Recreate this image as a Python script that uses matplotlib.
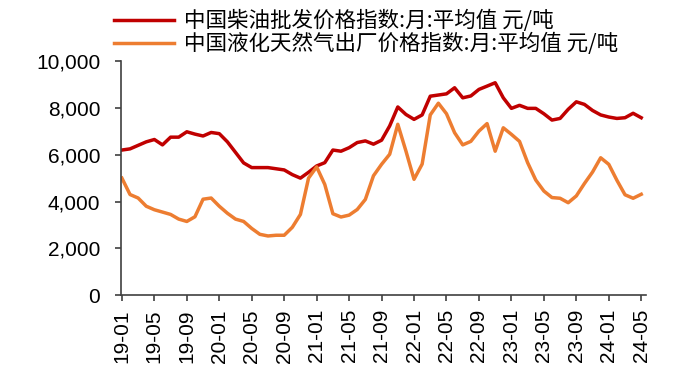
import matplotlib.pyplot as plt
import numpy as np

plt.rcParams['font.family'] = ['Liberation Sans', 'Noto Sans CJK SC', 'DejaVu Sans']

# months 2019-01 .. 2024-05
months = ['%02d-%02d' % (19 + i // 12, i % 12 + 1) for i in range(65)]

diesel = [6200, 6250, 6400, 6550, 6650, 6420, 6750, 6750, 6980, 6880,
          6800, 6950, 6900, 6550, 6100, 5650, 5450, 5450, 5450, 5400,
          5350, 5150, 5000, 5250, 5520, 5660, 6200, 6150, 6300, 6520,
          6590, 6450, 6620, 7230, 8040, 7720, 7510, 7700, 8500, 8550,
          8600, 8860, 8430, 8510, 8790, 8930, 9075, 8430, 7980, 8110,
          7980, 7980, 7750, 7480, 7550, 7940, 8260, 8150, 7890, 7700,
          7610, 7550, 7580, 7770, 7580]

lng = [5000, 4300, 4150, 3800, 3650, 3550, 3450, 3250, 3150, 3350,
       4100, 4150, 3800, 3500, 3250, 3150, 2850, 2600, 2530, 2560,
       2560, 2900, 3450, 5000, 5480, 4730, 3480, 3340, 3420, 3660,
       4090, 5100, 5590, 6020, 7300, 6160, 4950, 5600, 7700, 8200,
       7750, 6940, 6420, 6570, 7010, 7330, 6150, 7150, 6870, 6570,
       5660, 4920, 4450, 4170, 4140, 3950, 4240, 4770, 5260, 5870,
       5590, 4910, 4290, 4140, 4310]

labels = ['中国柴油批发价格指数:月:平均值 元/吨',
          '中国液化天然气出厂价格指数:月:平均值 元/吨']

fig = plt.figure(figsize=(7, 3.77), dpi=100)
ax = fig.add_axes([0.173, 0.217, 0.75, 0.621])

x = np.arange(len(months))
ax.plot(x, diesel, color='#C00000', lw=2.5, solid_joinstyle='round', label=labels[0])
ax.plot(x, lng, color='#ED7D31', lw=2.5, solid_joinstyle='round', label=labels[1])

ax.set_ylim(0, 10000)
ax.set_xlim(-0.1, 64.6)
ax.set_yticks(range(0, 10001, 2000))
ax.set_yticklabels(['{:,}'.format(v) for v in range(0, 10001, 2000)])
ax.set_xticks(x[::4])
ax.set_xticklabels(months[::4], rotation=90)

for s in ['top', 'right']:
    ax.spines[s].set_visible(False)
for s in ['left', 'bottom']:
    ax.spines[s].set_color('#404040')
    ax.spines[s].set_linewidth(1.2)
ax.tick_params(axis='both', direction='out', length=4, width=1.2,
               color='#404040', labelsize=15, labelcolor='black')
ax.tick_params(axis='y', pad=11)
ax.tick_params(axis='x', pad=6)

fig.legend(loc='upper left', bbox_to_anchor=(0.135, 1.025), frameon=False,
           prop={'family': ['Noto Sans CJK SC', 'DejaVu Sans'], 'size': 15.5},
           handlelength=2.8, handletextpad=0.45, labelspacing=0.05)

fig.savefig('out.png', dpi=100)
